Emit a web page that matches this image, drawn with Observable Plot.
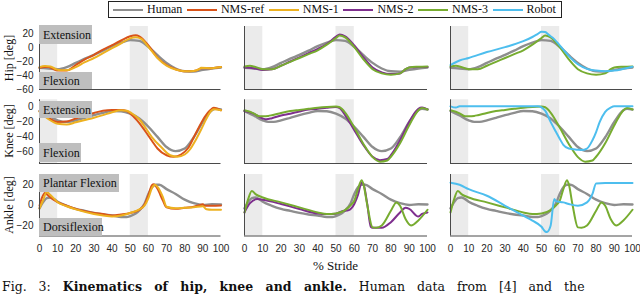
<!DOCTYPE html>
<html><head><meta charset="utf-8">
<script src="https://cdn.jsdelivr.net/npm/d3@7"></script>
<script src="https://cdn.jsdelivr.net/npm/@observablehq/plot@0.6"></script>
<style>
body{margin:0;background:#fff;}
#root{position:relative;width:640px;height:294px;overflow:hidden;font-family:"Liberation Serif",serif;color:#111;}
.abs{position:absolute;}
.tag{position:absolute;background:#bebebe;font-size:12px;line-height:1;display:flex;align-items:center;padding-left:4px;box-sizing:border-box;color:#111;white-space:nowrap;}
.ylab{position:absolute;font-size:12px;white-space:nowrap;transform:translate(-50%,-50%) rotate(-90deg);}
#legend{position:absolute;left:108px;top:1px;width:454px;height:17px;border:1px solid #222;box-sizing:border-box;display:flex;align-items:center;justify-content:space-between;padding:0 5px 0 4px;background:#fff;font-size:12px;}
#legend .item{display:flex;align-items:center;white-space:nowrap;}
#legend .sw{display:inline-block;width:30px;height:2px;margin-right:4px;}
#caption{position:absolute;left:2px;top:280px;font-family:"DejaVu Serif",serif;font-size:12.5px;white-space:nowrap;line-height:13px;}
</style></head><body><div id="root"></div><script>
// ---------- data ----------
const seriesNames = ["Human", "NMS-ref", "NMS-1", "NMS-2", "NMS-3", "Robot"];
const jointNames = ["Hip", "Knee", "Ankle"];
const shadeStarts = [0, 50];
const shadeEnds = [10, 60];
const xTicks = [0, 10, 20, 30, 40, 50, 60, 70, 80, 90, 100];
const hipTicks = [20, 0, -20, -40, -60];
const kneeTicks = [0, -20, -40, -60];
const ankleTicks = [20, 0, -20];
const hipTags = ["Extension", "Flexion"];
const kneeTags = ["Extension", "Flexion"];
const ankleTags = ["Plantar Flexion", "Dorsiflexion"];
const columnSeries = [["Human", "NMS-ref", "NMS-1"], ["Human", "NMS-2", "NMS-3"], ["Human", "NMS-3", "Robot"]];

// [% stride, angle deg]
const hipHuman = [[0,-29],[5,-30],[10,-31],[15,-28],[20,-22],[25,-16],[30,-10.5],[35,-4.5],[40,2],[45,7],[50,10.5],[55,9.5],[60,1],[65,-11],[70,-22],[75,-30],[80,-34],[85,-34.5],[90,-32],[95,-30],[100,-28.5]];
const hipRef = [[0,-29],[3,-28],[5,-28],[7,-30],[10,-33],[15,-33],[20,-25],[25,-17],[30,-10.5],[35,-3],[40,3.5],[45,10],[50,16],[53,17.5],[55,16],[60,3],[65,-14.5],[70,-25],[75,-31],[80,-34],[85,-33.5],[88,-31],[89,-29.5],[95,-29.5],[100,-28]];
const hipN1 = [[0,-28],[3,-26.5],[6,-27],[9,-31],[12,-32.5],[16,-32],[20,-28],[25,-21],[30,-15],[35,-8],[40,-1],[45,6],[50,13],[53,14.5],[56,12.5],[60,1],[65,-15],[70,-26],[75,-31.5],[80,-34],[85,-33.5],[88,-31],[89,-29],[95,-29.5],[100,-28]];
const hipN2 = [[0,-28.5],[5,-29.5],[10,-32],[15,-31],[20,-26],[25,-20],[30,-14],[35,-8],[40,-2],[45,5],[50,15.5],[52,18.5],[55,16],[60,3],[65,-14],[70,-28.5],[75,-35.5],[80,-38],[85,-37],[88,-31],[90,-28.5],[95,-28],[100,-28]];
const hipN3 = [[0,-27],[3,-26],[5,-27],[10,-31],[15,-31],[20,-26],[25,-20.5],[30,-15],[35,-9.5],[40,-4],[45,4],[50,13.5],[52,17],[55,14.5],[60,0.5],[65,-17],[70,-31],[75,-37],[80,-39],[85,-37],[88,-31],[90,-28.5],[95,-27.5],[100,-27]];
const hipRobot = [[0,-25],[5,-18.5],[10,-15],[20,-6.5],[30,0.5],[40,9],[45,15],[48,19.5],[50,22.5],[52,22],[54,18],[57,12],[60,3],[62,-3],[65,-12],[70,-24],[75,-30.5],[80,-33],[85,-34],[90,-33],[95,-30.5],[100,-27.5]];

const kneeHuman = [[0,-5],[5,-11],[10,-17.5],[13,-19.5],[16,-19.5],[20,-17.5],[25,-14],[30,-10.5],[35,-7.5],[40,-5],[45,-5.3],[50,-8.5],[55,-15],[60,-26],[65,-39.5],[70,-53],[75,-58.5],[80,-55],[85,-40],[90,-19.5],[95,-4],[97,-2],[100,-3]];
const kneeRef = [[0,-5],[5,-14],[10,-19.5],[15,-19],[20,-15],[25,-11],[30,-7.5],[35,-4.5],[40,-3.5],[45,-3.5],[48,-5],[52,-13],[55,-21],[58,-31],[62,-45],[65,-55],[70,-64],[74,-66],[78,-63],[82,-54],[85,-40],[88,-26],[91,-13],[94,-4],[96,-0.5],[100,-4]];
const kneeN1 = [[0,-6],[5,-16],[10,-22],[15,-23],[20,-20],[25,-17],[30,-14],[35,-10.5],[40,-6.5],[45,-4],[48,-4.5],[52,-10],[55,-16],[58,-26],[62,-40],[67,-53],[72,-64],[76,-66],[80,-63],[83,-56],[86,-44],[89,-30],[92,-15],[94.5,-5],[96,-2.5],[100,-4]];
const kneeN2 = [[0,-5],[5,-8.5],[10,-15],[12,-16],[15,-14.5],[20,-11],[25,-8.5],[30,-5.5],[35,-3],[40,-1.8],[45,-0.5],[50,0.4],[52,-1],[55,-10.5],[60,-30.5],[65,-50.5],[70,-66],[74,-70.5],[78,-69],[80,-64],[85,-44],[90,-19.5],[95,-2],[97,-0.4],[100,-2.7]];
const kneeN3 = [[0,-4],[5,-8],[8,-12],[10,-12],[13,-11.5],[15,-10.5],[20,-7.5],[25,-5],[30,-3.5],[35,-2],[40,-0.5],[45,0.5],[50,1],[52,0],[55,-7],[60,-27],[65,-49],[70,-66.5],[74,-72.5],[78,-71],[80,-66],[85,-48],[90,-24],[93,-11],[95,-4],[97,-1],[100,-3]];
const kneeRobot = [[0,1.3],[3,-0.4],[5,1.3],[10,1.5],[20,1.5],[30,1.5],[40,1.5],[48,1.5],[50,0],[52,-4.5],[55,-19.5],[58,-33],[60,-42],[62,-50],[65,-55],[70,-56.5],[72,-57],[75,-55],[78,-44],[80,-33],[82,-19.5],[85,-6],[88,-0.5],[90,1.3],[95,1.3],[100,1.3]];

const ankleHuman = [[0,-3],[2,3],[4,7],[6,7.5],[8,6],[10,3.5],[15,-0.5],[20,-3.5],[25,-5.5],[30,-7.5],[35,-9],[40,-10],[45,-11.5],[48,-11.5],[50,-10.5],[53,-8],[55,-5],[58,2],[60,11],[62,17.5],[64,20],[66,20],[70,15.7],[75,11],[80,5.5],[85,2],[90,0.3],[95,1],[100,0.8]];
const ankleRef = [[0,-0.5],[1.5,8],[3,12],[4.5,10],[6,7.5],[10,3],[15,-0.5],[20,-3.5],[30,-7.5],[35,-8.5],[40,-10],[45,-9],[50,-7.5],[55,-4.5],[58,1],[60,10],[62,19.5],[63,20.5],[65,16],[68,4.5],[70,-2],[75,-3.5],[80,-2.5],[85,-1.5],[88,0],[90,1],[91,-0.5],[95,-0.5],[100,-0.3]];
const ankleN1 = [[0,-3],[2,5],[4,13],[6,10],[8,6.5],[10,3],[15,-1],[20,-4],[30,-8.5],[35,-10],[40,-11],[45,-10],[50,-7.5],[55,-4],[58,0],[60,7],[62,17],[63.5,20],[65,18],[68,8],[70,-1.5],[75,-3],[80,-2.5],[85,-2],[90,-1],[92,-4],[95,-4.5],[100,-4.5]];
const ankleN2 = [[0,-7],[3,2],[7,6],[10,5.3],[20,1.2],[30,-3.7],[40,-8],[45,-8.6],[50,-8.3],[53,-6],[57,-4.7],[60,1.2],[62,10],[64,22],[65,20.6],[67,2],[69,-21],[70,-22],[75,-22],[80,-16.5],[85,-7],[88,-2.5],[90,-3.5],[95,-11],[97,-8.5],[100,-7]];
const ankleN3 = [[0,-7],[2,6],[4,14],[6,10.9],[10,7.6],[20,2.8],[30,-2.1],[40,-7],[45,-8.6],[50,-8],[55,-4.7],[58,0],[60,4.4],[62,15.7],[64,24.5],[65,20.6],[67,1],[70,-21.6],[72,-22],[75,-19.8],[80,-5.4],[83,2.8],[85,-0.5],[88,-13.5],[91,-19.8],[95,-14.8],[100,-4.4]];
const ankleRobot = [[0,22],[5,20],[10,15.7],[20,9.3],[30,-0.5],[40,-10.2],[45,-15],[50,-21],[52,-25.6],[53,-26],[55,-20],[57,6],[58,4],[62,2.8],[65,1.2],[70,-0.5],[75,2.8],[78,11],[80,21.3],[85,21.6],[90,21.6],[95,21.6],[100,21.6]];

// ---------- styling / layout ----------
const seriesColors = {"Human":"#8e8e8e","NMS-ref":"#D95319","NMS-1":"#EDB120","NMS-2":"#7E2F8E","NMS-3":"#77AC30","Robot":"#4DBEEE"};
const jointData = [
  {Human:hipHuman,"NMS-ref":hipRef,"NMS-1":hipN1,"NMS-2":hipN2,"NMS-3":hipN3,Robot:hipRobot},
  {Human:kneeHuman,"NMS-ref":kneeRef,"NMS-1":kneeN1,"NMS-2":kneeN2,"NMS-3":kneeN3,Robot:kneeRobot},
  {Human:ankleHuman,"NMS-ref":ankleRef,"NMS-1":ankleN1,"NMS-2":ankleN2,"NMS-3":ankleN3,Robot:ankleRobot}
];
const rowLayout = [
  {top:26, bot:89, domain:[-60,30], ticks:hipTicks, tags:hipTags,
   tagBoxes:[{l:39,t:25,w:53,h:19},{l:39,t:72,w:53,h:17}]},
  {top:99.3, bot:163, domain:[-75,10], ticks:kneeTicks, tags:kneeTags,
   tagBoxes:[{l:39,t:101,w:53,h:17},{l:39,t:143,w:42,h:19}]},
  {top:174, bot:235.5, domain:[-30,30], ticks:ankleTicks, tags:ankleTags,
   tagBoxes:[{l:39,t:174,w:80,h:18},{l:39,t:218,w:63,h:17.5}]}
];
const colLayout = [{x0:39,x1:220.5},{x0:244,x1:427},{x0:450,x1:632}];
const ML = 40, MR = 6;

const root = document.getElementById("root");
const shades = shadeStarts.map((s, i) => ({from: s, to: shadeEnds[i]}));

// legend
const legend = document.createElement("div");
legend.id = "legend";
seriesNames.forEach(n => {
  const it = document.createElement("div"); it.className = "item";
  const sw = document.createElement("span"); sw.className = "sw"; sw.style.background = seriesColors[n];
  it.appendChild(sw); it.appendChild(document.createTextNode(n));
  legend.appendChild(it);
});
root.appendChild(legend);

rowLayout.forEach((R, r) => {
  const bottomRow = r === rowLayout.length - 1;
  colLayout.forEach((C, c) => {
    const divTop = Math.floor(R.top) - 4;
    const mt = R.top - divTop;
    const mb = bottomRow ? 24 : 3;
    const h = mt + (R.bot - R.top) + mb;
    const w = ML + (C.x1 - C.x0) + MR;
    const marks = [
      Plot.rect(shades, {x1: "from", x2: "to", fill: "#ebebeb"})
    ];
    columnSeries[c].forEach(name => {
      const pts = jointData[r][name].map(([x, y]) => ({x, y}));
      marks.push(Plot.line(pts, {x: "x", y: "y", stroke: seriesColors[name], strokeWidth: name === "Human" ? 2.4 : 2, curve: "monotone-x"}));
    });
    marks.push(Plot.ruleX([0], {stroke: "#4a4a4a", strokeWidth: 1}));
    marks.push(Plot.ruleY([R.domain[0]], {stroke: "#4a4a4a", strokeWidth: 1}));
    if (c === 0) marks.push(Plot.axisY(R.ticks, {tickSize: 0, tickPadding: 6, label: null}));
    if (bottomRow) marks.push(Plot.axisX(xTicks, {tickSize: 0, tickPadding: 9, label: null}));
    const svg = Plot.plot({
      width: w, height: h,
      marginLeft: ML, marginRight: MR, marginTop: mt, marginBottom: mb,
      x: Object.assign({domain: [0, 100]}, bottomRow ? {} : {axis: null}),
      y: Object.assign({domain: R.domain}, c === 0 ? {} : {axis: null}),
      style: {background: "none", fontFamily: "'Liberation Sans', Arial, sans-serif", fontSize: "10px", color: "#262626", overflow: "visible"},
      marks
    });
    const holder = document.createElement("div");
    holder.className = "abs";
    holder.style.left = (C.x0 - ML) + "px";
    holder.style.top = divTop + "px";
    holder.appendChild(svg);
    root.appendChild(holder);
  });
  // tag boxes
  R.tags.forEach((t, i) => {
    const b = R.tagBoxes[i];
    const d = document.createElement("div");
    d.className = "tag";
    d.style.left = b.l + "px"; d.style.top = b.t + "px";
    d.style.width = b.w + "px"; d.style.height = b.h + "px";
    d.textContent = t;
    root.appendChild(d);
  });
  // y label
  const yl = document.createElement("div");
  yl.className = "ylab";
  yl.style.left = "9px";
  yl.style.top = ((R.top + R.bot) / 2) + "px";
  yl.textContent = jointNames[r] + " [deg]";
  root.appendChild(yl);
});

const xl = document.createElement("div");
xl.className = "abs";
xl.style.left = "335.5px"; xl.style.top = "266px";
xl.style.transform = "translate(-50%,-50%)";
xl.style.fontSize = "13px"; xl.style.whiteSpace = "nowrap";
xl.textContent = "% Stride";
root.appendChild(xl);

const cap = document.createElement("div");
cap.id = "caption";
cap.innerHTML = "Fig. 3: <b>Kinematics of hip, knee and ankle.</b> Human data from [4] and the";
root.appendChild(cap);
// widen the caption's word gaps so it spans the page width like the reference
const capW = cap.getBoundingClientRect().width;
const nGaps = (cap.textContent.match(/ /g) || []).length;
cap.style.wordSpacing = Math.max(0, Math.min(8, (634 - capW) / nGaps)) + "px";
</script></body></html>
